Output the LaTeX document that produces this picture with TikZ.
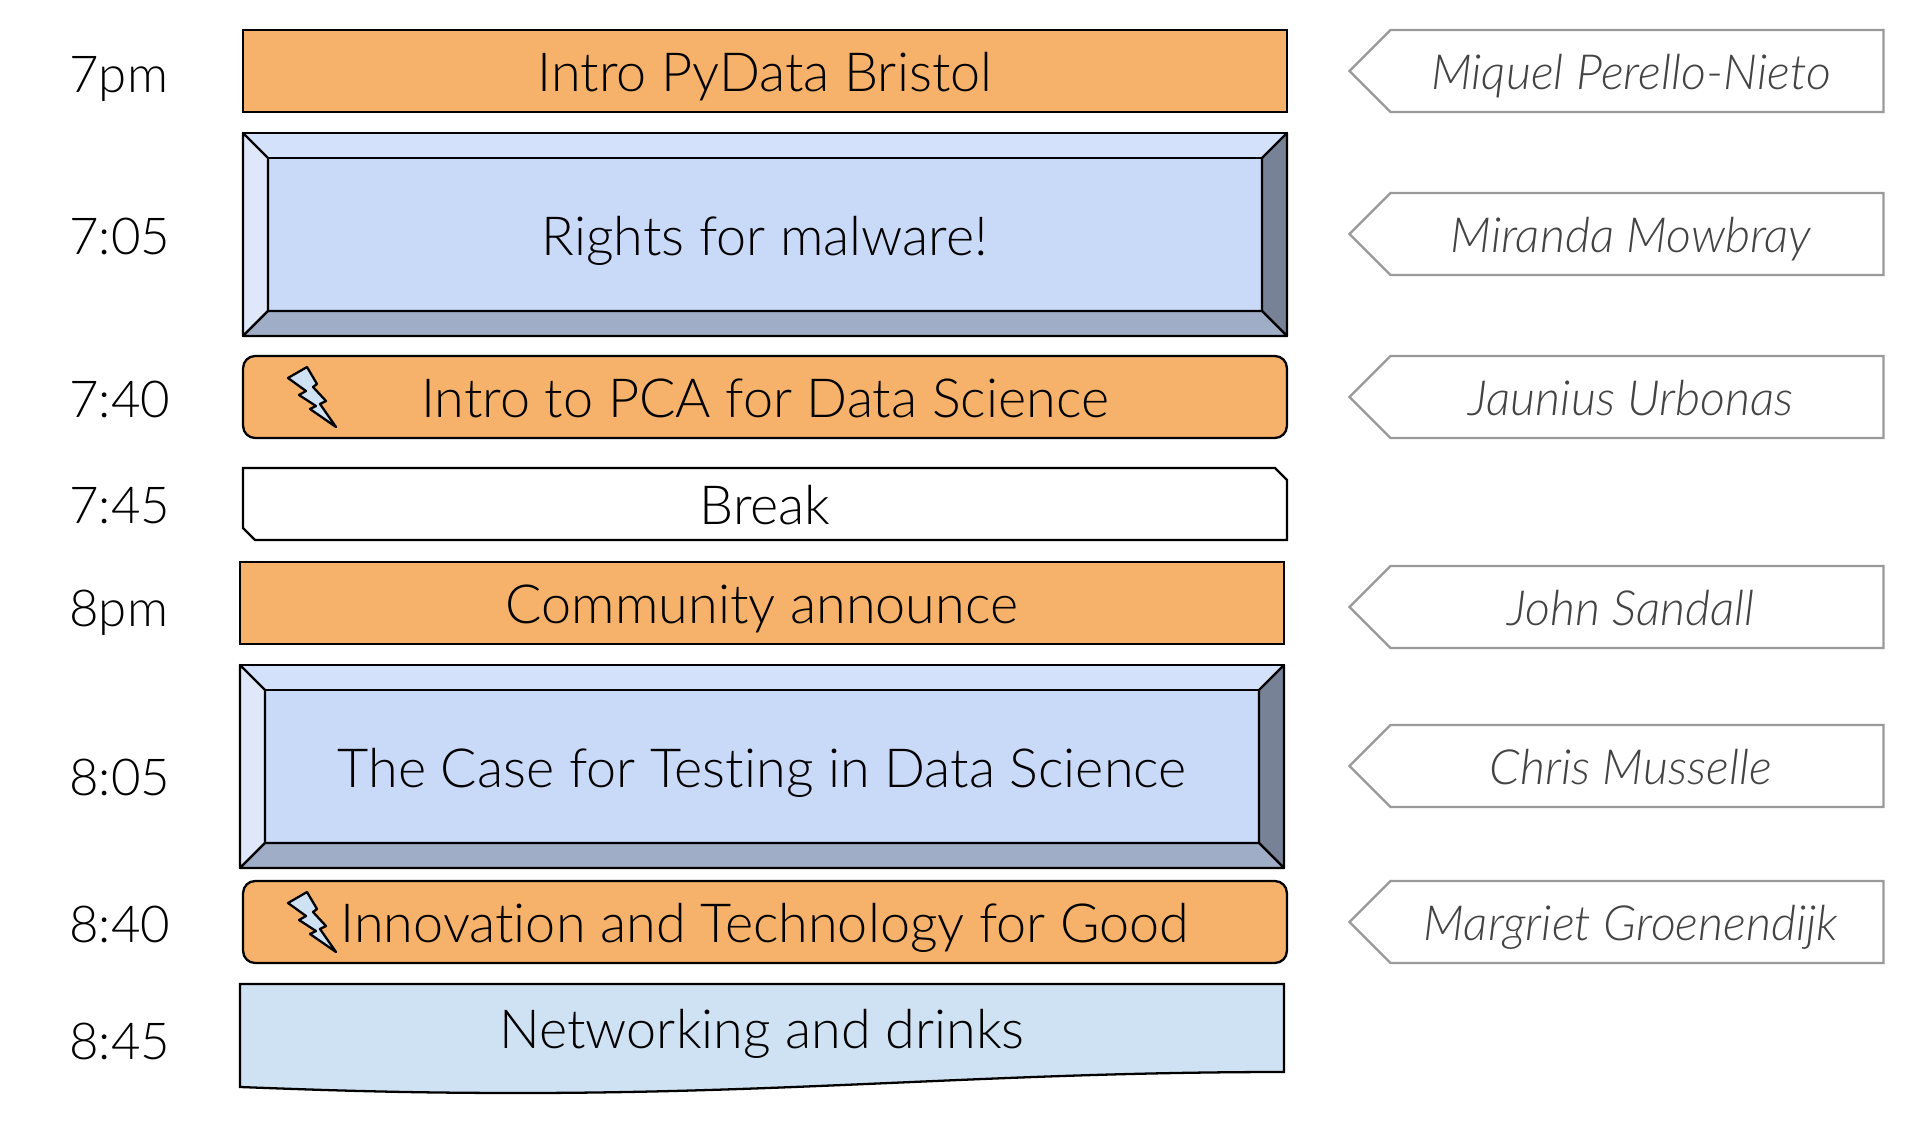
\documentclass[tikz,border=0pt]{standalone}
\usepackage{fontspec}
\setmainfont{Lato}[UprightFont=* Light,ItalicFont=* Light Italic,Ligatures=NoCommon]
\usetikzlibrary{shapes.symbols}

\definecolor{talkorange}{HTML}{F6B26B}
\definecolor{bevelmid}{HTML}{C9DAF8}
\definecolor{beveltop}{HTML}{D4E1FA}
\definecolor{bevelleft}{HTML}{DFE8FB}
\definecolor{bevelright}{HTML}{788296}
\definecolor{bevelbottom}{HTML}{9FADC6}
\definecolor{drinksblue}{HTML}{CFE2F3}
\definecolor{speakergray}{HTML}{999999}
\definecolor{nametext}{HTML}{434343}

\tikzset{
  box/.style={draw,line width=1.3pt,outer sep=0pt,inner sep=0pt,
    minimum width=20.88cm,font=\fontsize{30.7}{36}\selectfont,text height=26pt,text depth=2.2pt},
  talk/.style={box,fill=talkorange,minimum height=1.64cm},
  lightning/.style={box,fill=talkorange,minimum height=1.64cm,rounded corners=0.24cm},
  frame/.style={box,fill=beveltop,minimum height=4.06cm},
  inner/.style={box,fill=bevelmid,minimum width=19.88cm,minimum height=3.06cm},
  facet/.style={draw,line width=1.3pt,line join=round},
  label/.style={font=\fontsize{30.7}{36}\selectfont,inner sep=0pt,text height=26pt,text depth=2.2pt},
  hour/.style={anchor=west,font=\fontsize{29}{34}\selectfont,inner sep=0pt,text height=25pt,text depth=2.2pt},
  speaker/.style={signal,signal to=west,signal from=nowhere,signal pointer angle=90,
    draw=speakergray,line width=1.3pt,outer sep=0pt,inner sep=0pt,
    minimum width=10.68cm,minimum height=1.64cm,text=nametext,
    font=\fontsize{27.6}{33}\selectfont\itshape,text height=23.3pt,text depth=2.2pt,
    execute at begin node=\hspace*{-0.24cm}},
  bolt/.pic={
    \draw[facet,fill=drinksblue] (0,0) -- (19,-11) -- (29,6) -- (25,9) -- (38,23) -- (32,26)
      -- (48,49) -- (22,31) -- (28,28) -- (11,17) -- (18,13) -- cycle;
  }
}

\begin{document}
\begin{tikzpicture}[x=0.02cm,y=-0.02cm]
\useasboundingbox (0,0) rectangle (1927,1125);

% Hours
\node[hour] (h700) at (69,72) {7pm};
\node[hour] (h705) at (69,234) {7:05};
\node[hour] (h740) at (69,397) {7:40};
\node[hour] (h745) at (69,503) {7:45};
\node[hour] (h800) at (69,606) {8pm};
\node[hour] (h805) at (69,775) {8:05};
\node[hour] (h840) at (69,922) {8:40};
\node[hour] (h845) at (69,1039) {8:45};

% Opening
\node[talk] (intro) at (765,71) {Intro PyData Bristol};

% First long talk
\node[frame] (malwareframe) at (765,234.5) {};
\node[inner] (malware) at (765,234.5) {Rights for malware!};
\draw[facet,fill=bevelleft] (malwareframe.north west) -- (malware.north west) -- (malware.south west) -- (malwareframe.south west) -- cycle;
\draw[facet,fill=bevelright] (malwareframe.north east) -- (malware.north east) -- (malware.south east) -- (malwareframe.south east) -- cycle;
\draw[facet,fill=bevelbottom] (malwareframe.south west) -- (malware.south west) -- (malware.south east) -- (malwareframe.south east) -- cycle;

% Lightning talk
\node[lightning] (pca) at (765,397) {Intro to PCA for Data Science};
\pic (boltpca) at (288,378) {bolt};

% Break
\draw[facet,line join=miter] (243,468) -- (1275,468) -- (1287,480) -- (1287,540) -- (255,540) -- (243,528) -- cycle;
\node[label] (break) at (765,504) {Break};

% Community
\node[talk] (community) at (762,603) {Community announce};

% Second long talk
\node[frame] (testingframe) at (762,766.5) {};
\node[inner] (testing) at (762,766.5) {The Case for Testing in Data Science};
\draw[facet,fill=bevelleft] (testingframe.north west) -- (testing.north west) -- (testing.south west) -- (testingframe.south west) -- cycle;
\draw[facet,fill=bevelright] (testingframe.north east) -- (testing.north east) -- (testing.south east) -- (testingframe.south east) -- cycle;
\draw[facet,fill=bevelbottom] (testingframe.south west) -- (testing.south west) -- (testing.south east) -- (testingframe.south east) -- cycle;

% Second lightning talk
\node[lightning] (innovation) at (765,922) {Innovation and Technology for Good};
\pic (boltinnovation) at (288,903) {bolt};

% Networking
\draw[facet,fill=drinksblue,line join=miter] (240,984) -- (1284,984) -- (1284,1072)
  .. controls (1000,1072) and (800,1093) .. (520,1093)
  .. controls (400,1093) and (320,1090) .. (240,1087) -- cycle;
\node[label] (drinks) at (762,1028) {Networking and drinks};

% Speakers
\node[speaker] (miquel) at (1637,71) {Miquel Perello-Nieto};
\node[speaker] (miranda) at (1637,234) {Miranda Mowbray};
\node[speaker] (jaunius) at (1637,397) {Jaunius Urbonas};
\node[speaker] (john) at (1637,607) {John Sandall};
\node[speaker] (chris) at (1637,766) {Chris Musselle};
\node[speaker] (margriet) at (1637,922) {Margriet Groenendijk};

\end{tikzpicture}
\end{document}
